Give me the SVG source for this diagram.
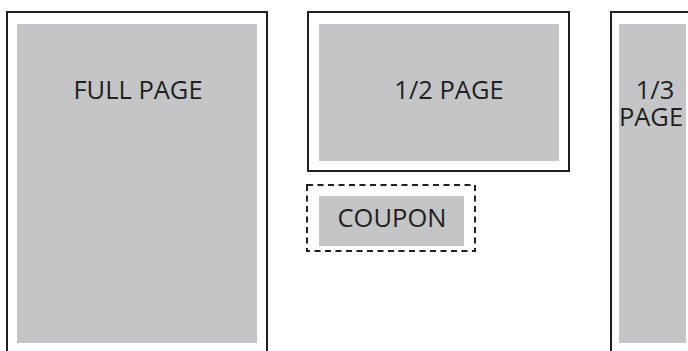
<svg xmlns="http://www.w3.org/2000/svg" width="688" height="351" viewBox="0 0 688 351">
<style>
.frame{fill:none;stroke:#231f20;stroke-width:2}
.dash{fill:none;stroke:#231f20;stroke-width:2;stroke-dasharray:6 4.5}
.area{fill:#c4c5c7}
.lbl{font-family:"Open Sans","Noto Sans",sans-serif;font-size:25.5px;fill:#231f20;text-anchor:middle}
</style>
<rect width="688" height="351" fill="#ffffff"/>
<g id="full-page">
<path class="frame" d="M7,351 V12 H267 V351"/>
<rect class="area" x="17" y="24" width="240" height="319"/>
<text class="lbl" x="138" y="99">FULL PAGE</text>
</g>
<g id="half-page">
<rect class="frame" x="308" y="12" width="261" height="159"/>
<rect class="area" x="319" y="24" width="240" height="137"/>
<text class="lbl" x="449" y="99">1/2 PAGE</text>
</g>
<g id="third-page">
<path class="frame" d="M611,351 V12 H689"/>
<rect class="area" x="619" y="24" width="67" height="319"/>
<text class="lbl" x="655" y="99">1/3</text>
<text class="lbl" x="651" y="126">PAGE</text>
</g>
<g id="coupon">
<rect class="dash" x="307" y="185" width="168" height="66"/>
<rect class="area" x="319" y="196" width="145" height="50"/>
<text class="lbl" x="392" y="227">COUPON</text>
</g>
<g id="connectors"/>
</svg>
